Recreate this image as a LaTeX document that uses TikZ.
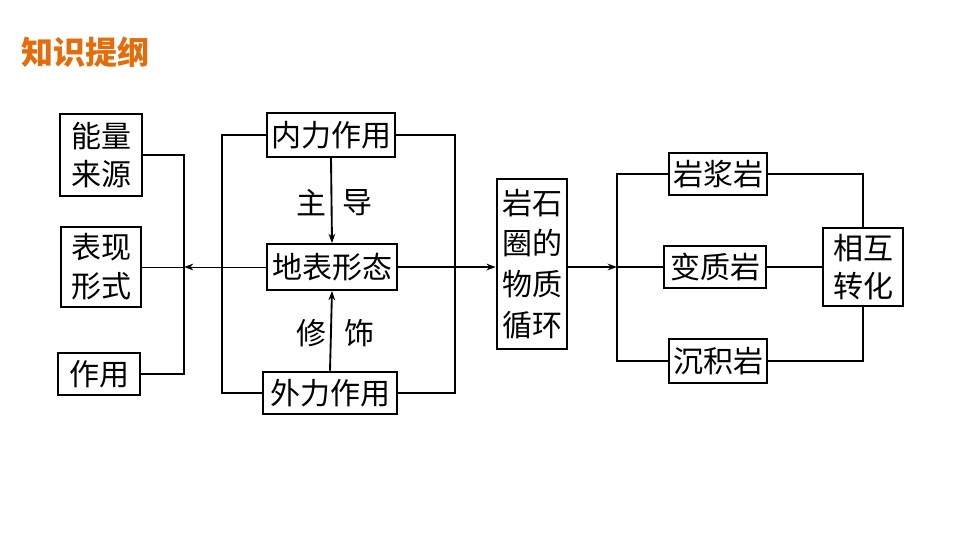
\documentclass[tikz,border=0pt]{standalone}
\usepackage{fontspec}
\usepackage{xcolor}
\usepackage{tikz}
\usetikzlibrary{arrows.meta,positioning,calc}
\newfontfamily\cjk{Noto Sans CJK SC}
\definecolor{titlec}{HTML}{E46C0A}
\tikzset{
  box/.style={draw, line width=1.4pt, inner sep=1pt, align=center,
              font=\cjk\fontsize{22.5}{29}\selectfont},
  link/.style={line width=1.4pt},
  thinlink/.style={line width=0.7pt},
  flow/.style={-{Stealth[length=7pt,width=5pt]}, line width=1.4pt},
  thinflow/.style={-{Stealth[length=7pt,width=5pt]}, line width=0.7pt},
  cue/.style={font=\cjk\fontsize{22.5}{29}\selectfont, inner sep=0pt},
  heading/.style={font=\cjk\bfseries\fontsize{24}{28}\selectfont, text=titlec, anchor=west, inner sep=0pt},
}
% columns (pixels of the 960x540 page)
\def\cL{101}
\def\cM{331}
\def\cR{718}
\def\yMid{267}
\begin{document}
\begin{tikzpicture}[x=0.75pt, y=-0.75pt]
  \useasboundingbox (0,0) rectangle (960,540);
  \node[heading] (title) at (21,52) {知识提纲};
  % left column
  \node[box, minimum width=61pt, minimum height=61pt] (nengliang) at (\cL,155) {能量\\来源};
  \node[box, minimum width=60pt, minimum height=60pt] (biaoxian) at (\cL,\yMid) {表现\\形式};
  \node[box, minimum width=61.5pt, minimum height=32pt] (zuoyong) at (99,374) {作用};
  % middle column
  \node[box, minimum width=96pt, minimum height=33pt] (neili) at (\cM,135) {内力作用};
  \node[box, minimum width=98pt, minimum height=34.5pt] (dibiao) at (332,\yMid) {地表形态};
  \node[box, minimum width=100pt, minimum height=32pt] (waili) at (330,393) {外力作用};
  \node[cue] (zhu) at (311,203) {主};
  \node[cue] (dao) at (357,203) {导};
  \node[cue] (xiu) at (311,333) {修};
  \node[cue] (shi) at (359,333) {饰};
  \node[box, minimum width=53pt, minimum height=127pt, font=\cjk\fontsize{22.5}{30.5}\selectfont] (yanshi) at (532,264) {岩石\\圈的\\物质\\循环};
  % right column
  \node[box, minimum width=73.5pt, minimum height=31.5pt] (yanjiang) at (\cR,174) {岩浆岩};
  \node[box, minimum width=77pt, minimum height=31pt] (bianzhi) at (715,\yMid) {变质岩};
  \node[box, minimum width=73.5pt, minimum height=33pt] (chenji) at (\cR,361) {沉积岩};
  \node[box, minimum width=60pt, minimum height=59pt] (xianghu) at (863,\yMid) {相互\\转化};
  % junctions
  \coordinate (jl) at (184,\yMid);
  \coordinate (loopL) at (222,\yMid);
  \coordinate (loopR) at (455,\yMid);
  \coordinate (jr) at (617,\yMid);
  % connectors
  \draw[link] (nengliang.east) -| (jl) |- (zuoyong.east);
  \draw[thinlink] (biaoxian.east) -- (jl);
  \draw[thinflow] (dibiao.west) -- (jl);
  \draw[link] (neili.west) -| (loopL) |- (waili.west);
  \draw[link] (neili.east) -| (loopR) |- (waili.east);
  \draw[flow] (neili.south) -- (dibiao.north);
  \draw[flow] (waili.north) -- (dibiao.south);
  \draw[flow] (dibiao.east) -- (yanshi.west |- dibiao.east);
  \draw[flow] (yanshi.east |- jr) -- (jr);
  \draw[link] (yanjiang.west) -| (jr) |- (chenji.west);
  \draw[link] (bianzhi.west) -- (jr);
  \draw[link] (yanjiang.east) -| (xianghu.north);
  \draw[link] (bianzhi.east) -- (xianghu.west);
  \draw[link] (chenji.east) -| (xianghu.south);
\end{tikzpicture}
\end{document}
